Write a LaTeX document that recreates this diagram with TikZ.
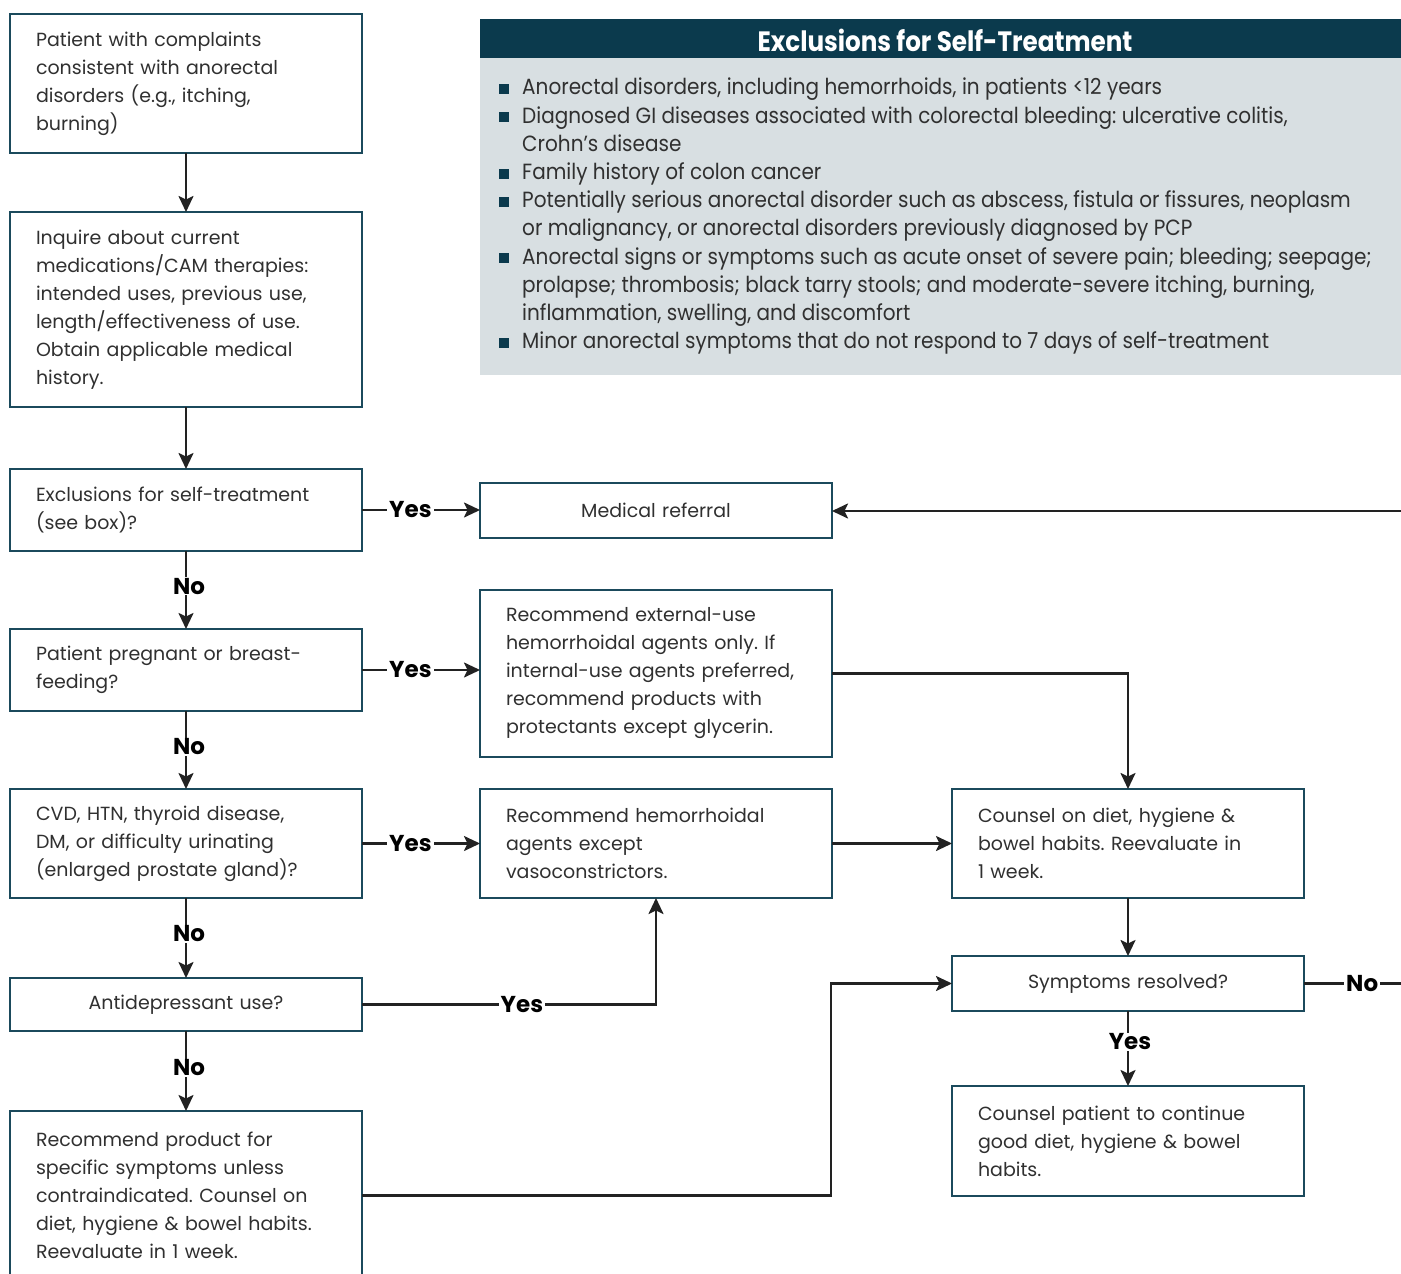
\documentclass[tikz,border=0pt]{standalone}
\usepackage{fontspec}
\setmainfont{Poppins}
\newfontfamily\condf[FakeStretch=0.91]{Poppins}
\newfontfamily\headf[FakeStretch=0.88]{Poppins}
\usetikzlibrary{arrows.meta}
\frenchspacing

\definecolor{boxc}{HTML}{1B4A5C}
\definecolor{headc}{HTML}{0B3A4D}
\definecolor{panelc}{HTML}{D8DFE2}
\definecolor{txtc}{HTML}{303030}
\definecolor{linec}{HTML}{222222}

\newcommand{\bxfont}{\fontsize{19}{28}\selectfont}
\newcommand{\sqbul}{\llap{\textcolor{headc}{\rule[1pt]{10pt}{10pt}}\hspace{13pt}}}

\tikzset{
  box/.style={draw=boxc, line width=2.2pt, fill=white, text=txtc, font=\bxfont,
    align=left, text width=300pt, inner xsep=26pt, inner ysep=0pt, outer sep=0pt,
    minimum width=352pt, anchor=north west},
  cbox/.style={box, align=center},
  arr/.style={draw=linec, line width=2.3pt, -{Stealth[length=16pt,width=15pt,inset=3.5pt]}},
  plain/.style={draw=linec, line width=2.3pt},
  lbl/.style={fill=white, text=black, inner xsep=2pt, inner ysep=1pt,
    font=\bfseries\fontsize{23}{23}\selectfont},
}

\begin{document}
\begin{tikzpicture}[x=1pt,y=-1pt]
\clip (0,0) rectangle (1401,1274);
\fill[white] (0,0) rectangle (1401,1274);

% exclusions panel
\fill[panelc] (480,58) rectangle (1401,375);
\fill[headc] (480,19) rectangle (1401,58);
\node[text=white, font=\headf\bfseries\fontsize{28}{28}\selectfont, inner sep=0pt]
  (head) at (945,40) {Exclusions for Self-Treatment};
\node[anchor=north west, align=left, text=txtc, inner sep=0pt,
  font=\condf\fontsize{22}{28.2}\selectfont] (excl) at (522,78)
  {\sqbul Anorectal disorders, including hemorrhoids, in patients <12 years\\
   \sqbul Diagnosed GI diseases associated with colorectal bleeding: ulcerative colitis,\\
   Crohn’s disease\\
   \sqbul Family history of colon cancer\\
   \sqbul Potentially serious anorectal disorder such as abscess, fistula or fissures, neoplasm\\
   or malignancy, or anorectal disorders previously diagnosed by PCP\\
   \sqbul Anorectal signs or symptoms such as acute onset of severe pain; bleeding; seepage;\\
   prolapse; thrombosis; black tarry stools; and moderate-severe itching, burning,\\
   inflammation, swelling, and discomfort\\
   \sqbul Minor anorectal symptoms that do not respond to 7 days of self-treatment};

% left column
\node[box, minimum height=139pt] (n1) at (10,14)
  {Patient with complaints\\ consistent with anorectal\\ disorders (e.g., itching,\\ burning)};
\node[box, minimum height=195pt] (n2) at (10,212)
  {Inquire about current\\ medications/CAM therapies:\\ intended uses, previous use,\\ length/effectiveness of use.\\ Obtain applicable medical\\ history.};
\node[box, minimum height=82pt] (n3) at (10,469)
  {Exclusions for self-treatment\\ (see box)?};
\node[box, minimum height=82pt] (n4) at (10,629)
  {Patient pregnant or breast-\\ feeding?};
\node[box, minimum height=109pt] (n5) at (10,789)
  {CVD, HTN, thyroid disease,\\ DM, or difficulty urinating\\ (enlarged prostate gland)?};
\node[cbox, minimum height=53pt] (n6) at (10,978) {Antidepressant use?};
\node[box, minimum height=169pt] (n7) at (10,1111)
  {Recommend product for\\ specific symptoms unless\\ contraindicated. Counsel on\\ diet, hygiene \& bowel habits.\\ Reevaluate in 1 week.};

% middle column
\node[cbox, minimum height=55pt] (mr) at (480,483) {Medical referral};
\node[box, minimum height=167pt] (re) at (480,590)
  {Recommend external-use\\ hemorrhoidal agents only. If\\ internal-use agents preferred,\\ recommend products with\\ protectants except glycerin.};
\node[box, minimum height=109pt] (rh) at (480,789)
  {Recommend hemorrhoidal\\ agents except\\ vasoconstrictors.};

% right column
\node[box, minimum height=109pt] (cd) at (952,789)
  {Counsel on diet, hygiene \&\\ bowel habits. Reevaluate in\\ 1 week.};
\node[cbox, minimum height=55pt] (sr) at (952,956) {Symptoms resolved?};
\node[box, minimum height=110pt] (cp) at (952,1086)
  {Counsel patient to continue\\ good diet, hygiene \& bowel\\ habits.};

\coordinate (redge) at (1401,511);
\coordinate (nedge) at (1401,983.5);
\coordinate (jx) at (831,1000);

% connectors
\draw[arr] (n1) -- (n2);
\draw[arr] (n2) -- (n3);
\draw[arr] (n3) -- node[lbl, pos=0.45, xshift=3pt] {No} (n4);
\draw[arr] (n4) -- node[lbl, pos=0.46, xshift=3pt] {No} (n5);
\draw[arr] (n5) -- node[lbl, pos=0.45, xshift=3pt] {No} (n6);
\draw[arr] (n6) -- node[lbl, pos=0.46, xshift=3pt] {No} (n7);

\draw[arr] (n3.east) -- node[lbl, pos=0.41] {Yes} (n3.east -| mr.west);
\draw[arr] (n4.east) -- node[lbl, pos=0.41] {Yes} (n4.east -| re.west);
\draw[arr] (n5.east) -- node[lbl, pos=0.41] {Yes} (rh.west);
\draw[arr] (n6.east) -| node[lbl, pos=0.272] {Yes} (rh.south);

\draw[arr] (re.east) -| (cd.north);
\draw[arr] (rh.east) -- (cd.west);
\draw[arr] (cd) -- (sr);
\draw[arr] (sr) -- node[lbl, pos=0.41, xshift=2pt] {Yes} (cp);
\draw[plain] (sr.east) -- node[lbl, pos=0.6] {No} (nedge);
\draw[arr] (redge) -- (redge -| mr.east);
\draw[arr] (n7.east) -- (n7.east -| jx) |- (sr.west);
\end{tikzpicture}
\end{document}
